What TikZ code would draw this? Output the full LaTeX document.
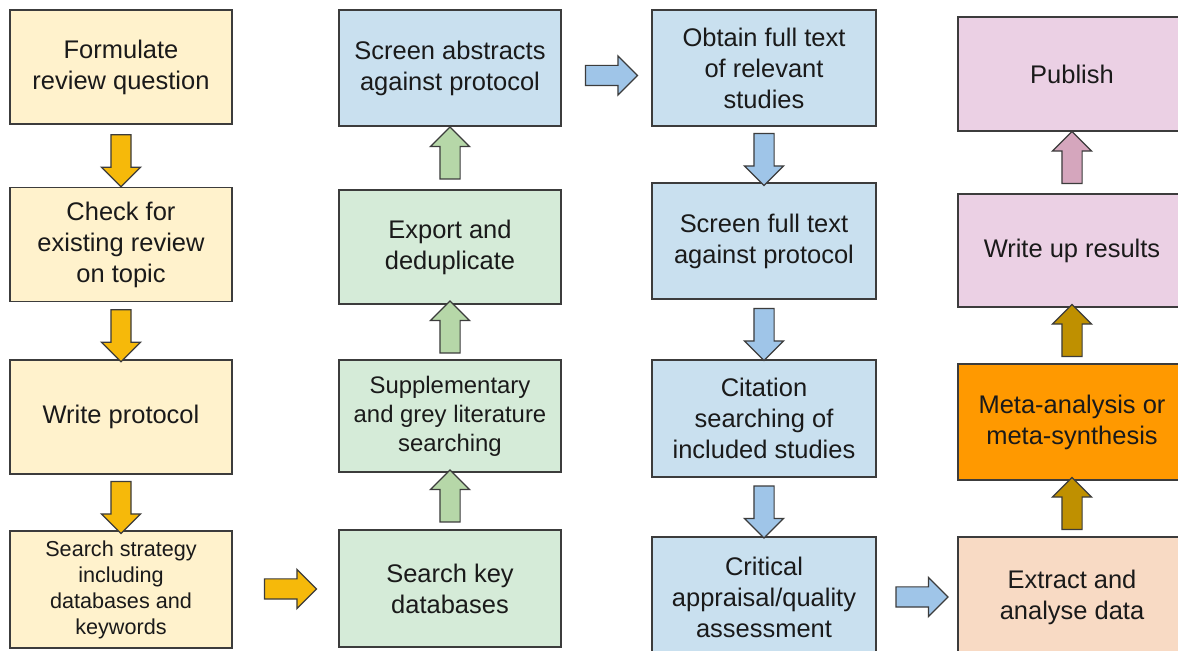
\documentclass[tikz,border=0pt]{standalone}
\usepackage{fontspec}
\setmainfont{Liberation Sans}
\usetikzlibrary{positioning,shapes.arrows,calc}
\definecolor{edge}{HTML}{3C3C3C}
\definecolor{ink}{HTML}{1A1A1A}
\definecolor{ylwbox}{HTML}{FFF2CC}
\definecolor{ylwarr}{HTML}{F6B90A}
\definecolor{grnbox}{HTML}{D5EBD8}
\definecolor{grnarr}{HTML}{B6D7A8}
\definecolor{blubox}{HTML}{C9E0EF}
\definecolor{bluarr}{HTML}{9FC5E8}
\definecolor{pnkbox}{HTML}{EBD0E4}
\definecolor{pnkarr}{HTML}{D5A6BD}
\definecolor{orgbox}{HTML}{FF9900}
\definecolor{pchbox}{HTML}{F8DAC4}
\definecolor{brnarr}{HTML}{BF9000}
\tikzset{box/.style={draw=edge,line width=1pt,minimum width=4.44cm,minimum height=2.28cm,
    align=center,inner sep=2pt,text=ink,font=\fontsize{14.5}{17.6}\selectfont},
  small/.style={font=\fontsize{12.3}{14.8}\selectfont},
  mid/.style={font=\fontsize{13.6}{16.5}\selectfont},
  flow/.style={draw=edge,line width=0.7pt,single arrow,single arrow head extend=0.19cm,
    inner sep=0.19cm,minimum height=1.04cm},
  down/.style={flow,shape border rotate=270},
  up/.style={flow,shape border rotate=90},
  right/.style={flow,shape border rotate=0}}

\begin{document}
\begin{tikzpicture}[x=0.02cm,y=-0.02cm]
\clip (0,0) rectangle (1178,651);
\fill[white] (0,0) rectangle (1178,651);

% planning
\node[box,fill=ylwbox] (form) at (121,67) {Formulate\\review question};
\node[box,fill=ylwbox] (check) at (121,244.5) {Check for\\existing review\\on topic};
\node[box,fill=ylwbox] (proto) at (121,417) {Write protocol};
\node[box,fill=ylwbox,small,minimum height=2.34cm] (strat) at (121,589.5) {Search strategy\\including\\databases and\\keywords};

% searching
\node[box,fill=grnbox,minimum height=2.34cm] (keydb) at (450,588.5) {Search key\\databases};
\node[box,fill=grnbox,mid,minimum height=2.24cm] (grey) at (450,416) {Supplementary\\and grey literature\\searching};
\node[box,fill=grnbox] (dedup) at (450,247) {Export and\\deduplicate};
\node[box,fill=blubox,minimum height=2.32cm] (abstr) at (450,68) {Screen abstracts\\against protocol};

% screening
\node[box,fill=blubox,minimum width=4.48cm,minimum height=2.32cm] (full) at (764,68) {Obtain full text\\of relevant\\studies};
\node[box,fill=blubox,minimum width=4.48cm,minimum height=2.32cm] (scrn) at (764,241) {Screen full text\\against protocol};
\node[box,fill=blubox,minimum width=4.48cm,minimum height=2.34cm] (cite) at (764,418.5) {Citation\\searching of\\included studies};
\node[box,fill=blubox,minimum width=4.48cm,minimum height=2.4cm] (crit) at (764,597) {Critical\\appraisal/quality\\assessment};

% synthesis
\node[box,fill=pchbox,minimum width=4.56cm,minimum height=2.4cm] (extr) at (1072,597) {Extract and\\analyse data};
\node[box,fill=orgbox,minimum width=4.56cm,minimum height=2.32cm] (meta) at (1072,422) {Meta-analysis or\\meta-synthesis};
\node[box,fill=pnkbox,minimum width=4.56cm,minimum height=2.26cm] (write) at (1072,250.5) {Write up results};
\node[box,fill=pnkbox,minimum width=4.56cm] (pub) at (1072,74) {Publish};

% arrows
\node[down,fill=ylwarr] (a1) at ($(form.south)!0.5!(check.north)$) {};
\node[down,fill=ylwarr] (a2) at ($(check.south)!0.5!(proto.north)$) {};
\node[down,fill=ylwarr] (a3) at ($(proto.south)!0.5!(strat.north)$) {};
\node[right,fill=ylwarr] (a4) at ($(strat.east)!0.5!(keydb.west)$) {};
\node[up,fill=grnarr] (a5) at ($(keydb.north)!0.5!(grey.south)$) {};
\node[up,fill=grnarr] (a6) at ($(grey.north)!0.5!(dedup.south)$) {};
\node[up,fill=grnarr] (a7) at ($(dedup.north)!0.5!(abstr.south)$) {};
\node[right,fill=bluarr,yshift=-0.15cm] (a8) at ($(abstr.east)!0.5!(full.west)$) {};
\node[down,fill=bluarr] (a9) at ($(full.south)!0.5!(scrn.north)$) {};
\node[down,fill=bluarr] (a10) at ($(scrn.south)!0.5!(cite.north)$) {};
\node[down,fill=bluarr] (a11) at ($(cite.south)!0.5!(crit.north)$) {};
\node[right,fill=bluarr] (a12) at ($(crit.east)!0.5!(extr.west)$) {};
\node[up,fill=brnarr] (a13) at ($(extr.north)!0.5!(meta.south)$) {};
\node[up,fill=brnarr] (a14) at ($(meta.north)!0.5!(write.south)$) {};
\node[up,fill=pnkarr] (a15) at ($(write.north)!0.5!(pub.south)$) {};
\end{tikzpicture}
\end{document}
